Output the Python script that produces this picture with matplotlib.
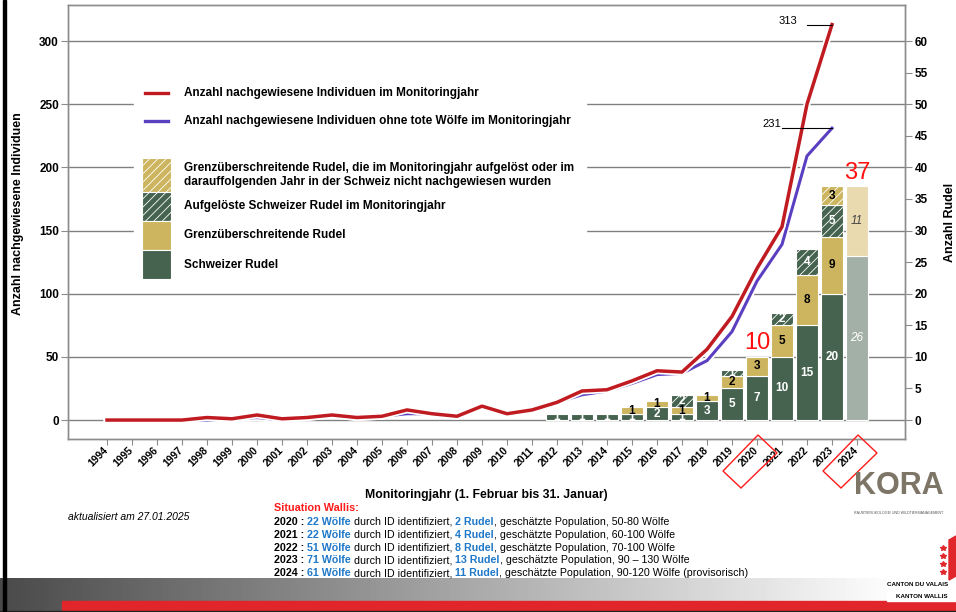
import numpy as np
import matplotlib.pyplot as plt
import matplotlib.patheffects as pe
from matplotlib import font_manager as fm
from matplotlib.patches import Rectangle, Polygon
from matplotlib.lines import Line2D

plt.rcParams['font.family'] = ['Liberation Sans', 'DejaVu Sans']
plt.rcParams['hatch.linewidth'] = 0.6


def has_font(name):
    try:
        fm.findfont(fm.FontProperties(family=name), fallback_to_default=False)
        return True
    except ValueError:
        return False


narrow = 'Liberation Sans Narrow' if has_font('Liberation Sans Narrow') else 'Liberation Sans'

# monitoring years
years = list(range(1994, 2025))
line_years = years[:-1]

# individuals per monitoring year (left axis)
individuals = [0, 0, 0, 0, 2, 1, 4, 1, 2, 4, 2, 3, 8, 5, 3, 11, 5, 8, 14, 23,
               24, 31, 39, 38, 56, 82, 120, 153, 250, 313]
without_dead = [0, 0, 0, 0, 0, 1, 2, 0, 2, 4, 2, 3, 5, 5, 3, 10, 4, 8, 14, 20,
                23, 29, 36, 37, 47, 70, 110, 139, 209, 231]

# packs (right axis)
pack_years = list(range(2012, 2024))
swiss = [1, 1, 1, 1, 2, 1, 3, 5, 7, 10, 15, 20]
cross = [0, 0, 0, 1, 1, 1, 1, 2, 3, 5, 8, 9]
dissolved_swiss = [0, 0, 0, 0, 0, 2, 0, 1, 0, 2, 4, 5]
dissolved_cross = [0, 0, 0, 0, 0, 0, 0, 0, 0, 0, 0, 3]

prov_year = 2024
prov_swiss = 26
prov_cross = 11

# Situation Wallis
sit_years = [2020, 2021, 2022, 2023, 2024]
sit_wolves = [22, 22, 51, 71, 61]
sit_packs = [2, 4, 8, 13, 11]
sit_pop = ['50-80', '60-100', '70-100', '90 \u2013 130', '90-120']
sit_note = ['', '', '', '', ' (provisorisch)']

GREEN = '#45634f'
GOLD = '#cdb55f'
RED = '#bf1b21'
BLUE = '#5b3fc1'
GRID = '#808080'

W, H = 956, 612
fig = plt.figure(figsize=(W / 100, H / 100), dpi=100)
ax = fig.add_axes([68 / W, 1 - 439 / H, (905 - 68) / W, (439 - 5) / H])
ax2 = ax.twinx()


def fx(px):
    return px / W


def fy(py):
    return 1 - py / H


ax.set_xlim(1992.44, 2025.92)
ax.set_ylim(-15, 328.5)
ax2.set_ylim(-3, 65.7)

ax.set_yticks(range(0, 301, 50))
ax2.set_yticks(range(0, 61, 5))
ax.grid(axis='y', color=GRID, lw=1)
ax.set_axisbelow(True)

for a in (ax, ax2):
    for s in a.spines.values():
        s.set_color('#8c8c8c')
        s.set_linewidth(1)

ax.set_xticks(years)
ax.set_xticklabels([str(y) for y in years], rotation=45, ha='right', va='center',
                   rotation_mode='anchor', fontweight='bold', fontsize=7.5)
ax.tick_params(axis='x', length=4, pad=3, color='#8c8c8c')
ax.tick_params(axis='y', length=5, pad=1.5, color='#8c8c8c', labelsize=8.5)
ax2.tick_params(axis='y', length=5, pad=2, color='#8c8c8c', labelsize=8.5)
for lab in ax.get_yticklabels() + ax2.get_yticklabels():
    lab.set_fontweight('bold')

ax.set_ylabel('Anzahl nachgewiesene Individuen', fontweight='bold', fontsize=9)
ax.yaxis.set_label_coords(-0.052, 0.52)
ax2.set_ylabel('Anzahl Rudel', fontweight='bold', fontsize=9)
ax2.yaxis.set_label_coords(1.046, 0.5)
ax.set_xlabel('Monitoringjahr (1. Februar bis 31. Januar)', fontweight='bold',
              fontsize=8.8, family=narrow)
ax.xaxis.set_label_coords(0.5, -0.115)

# lines
halo = [pe.Stroke(linewidth=5, foreground='white'), pe.Normal()]
ax.plot(line_years, without_dead, color=BLUE, lw=2.2, path_effects=halo, zorder=3)
ax.plot(line_years, individuals, color=RED, lw=2.5, path_effects=halo, zorder=4)

ax.plot([2022, 2023], [individuals[-1]] * 2, color='black', lw=0.8, zorder=5)
ax.text(2021.6, individuals[-1] + 3, str(individuals[-1]), ha='right', va='center', fontsize=8)
ax.plot([2021, 2023], [without_dead[-1]] * 2, color='black', lw=0.8, zorder=5)
ax.text(2020.98, without_dead[-1] + 3, str(without_dead[-1]), ha='right', va='center', fontsize=8)

# stacked bars
segments = [
    (swiss, GREEN, None, 'white'),
    (cross, GOLD, None, 'black'),
    (dissolved_swiss, GREEN, '////', 'white'),
    (dissolved_cross, GOLD, '////', 'black'),
]
bottom = np.zeros(len(pack_years))
for vals, color, hatch, tcol in segments:
    vals = np.array(vals, dtype=float)
    m = vals > 0
    xs = np.array(pack_years)[m]
    ax2.bar(xs, vals[m], 0.9, bottom=bottom[m], color=color, edgecolor='white',
            linewidth=0.8, hatch=hatch, zorder=2)
    for x, b, v in zip(xs, bottom[m], vals[m]):
        ax2.text(x, b + v / 2, f'{int(v)}', ha='center', va='center', color=tcol,
                 fontsize=8.5, fontweight='bold', zorder=6)
    bottom += vals

ax2.bar(prov_year, prov_swiss, 0.9, color='#a3b0a7', edgecolor='white', linewidth=0.8, zorder=2)
ax2.bar(prov_year, prov_cross, 0.9, bottom=prov_swiss, color='#e9dab0', edgecolor='white',
        linewidth=0.8, zorder=2)
ax2.text(prov_year, prov_swiss / 2, str(prov_swiss), ha='center', va='center', color='white',
         fontsize=8.5, fontstyle='italic', zorder=6)
ax2.text(prov_year, prov_swiss + prov_cross / 2, str(prov_cross), ha='center', va='center',
         color='#444444', fontsize=8.5, fontstyle='italic', zorder=6)

total_2020 = int(bottom[pack_years.index(2020)])
ax2.text(2020, total_2020 + 0.5, str(total_2020), ha='center', va='bottom', color='#ff1010',
         fontsize=17, zorder=6)
ax2.text(prov_year, prov_swiss + prov_cross + 0.3, str(prov_swiss + prov_cross), ha='center',
         va='bottom', color='#ff1010', fontsize=17, zorder=6)

# legend (manual, white box over the grid)
fig.add_artist(Rectangle((fx(134), fy(285)), fx(586) - fx(134), fy(80) - fy(285),
                         transform=fig.transFigure, color='white', zorder=1))
for py, col in [(93, RED), (121, BLUE)]:
    fig.add_artist(Line2D([fx(145), fx(168)], [fy(py), fy(py)], color=col, lw=2.4,
                          transform=fig.transFigure, zorder=2))
fig.text(fx(184), fy(93), 'Anzahl nachgewiesene Individuen im Monitoringjahr',
         va='center', fontweight='bold', fontsize=8.5)
fig.text(fx(184), fy(121), 'Anzahl nachgewiesene Individuen ohne tote W\u00f6lfe im Monitoringjahr',
         va='center', fontweight='bold', fontsize=8.5)

patch_rows = [
    (158, 192, GOLD, '////', 'Grenz\u00fcberschreitende Rudel, die im Monitoringjahr aufgel\u00f6st oder im\n'
                             'darauffolgenden Jahr in der Schweiz nicht nachgewiesen wurden'),
    (192, 221, GREEN, '////', 'Aufgel\u00f6ste Schweizer Rudel im Monitoringjahr'),
    (221, 250, GOLD, None, 'Grenz\u00fcberschreitende Rudel'),
    (250, 279, GREEN, None, 'Schweizer Rudel'),
]
for top, bot, col, hatch, label in patch_rows:
    fig.add_artist(Rectangle((fx(142), fy(bot)), fx(171) - fx(142), fy(top) - fy(bot),
                             transform=fig.transFigure, facecolor=col, edgecolor='white',
                             linewidth=0.8, hatch=hatch, zorder=2))
    fig.text(fx(184), fy((top + bot) / 2), label, va='center', fontweight='bold',
             fontsize=8.5, linespacing=1.2)

# red boxes around 2020 and 2024 tick labels
box_shape = [(1, 435), (20, 453), (-16, 488), (-34, 471)]
for yr in (2020, 2024):
    tx = ax.transData.transform((yr, 0))[0]
    pts = [(tx + dx, H - py) for dx, py in box_shape]
    fig.add_artist(Polygon(pts, closed=True, fill=False, edgecolor='#ff1a1a', lw=1,
                           transform=None, zorder=3))

# notes below the chart
fig.text(fx(68), fy(517), 'aktualisiert am 27.01.2025', fontstyle='italic', fontsize=7.5,
         family=narrow, va='center')
fig.text(fx(274), fy(508), 'Situation Wallis:', color='#ff1a1a', fontweight='bold',
         fontsize=7.8, family=narrow, va='center')

renderer = fig.canvas.get_renderer()


def text_runs(px, py, runs, size=7.7):
    for s, color, weight in runs:
        t = fig.text(fx(px), fy(py), s, color=color, fontweight=weight, fontsize=size,
                     family=narrow, va='center', ha='left')
        px += t.get_window_extent(renderer).width


LINK = '#1f78c8'
for i, yr in enumerate(sit_years):
    runs = [
        (f'{yr} : ', 'black', 'bold'),
        (f'{sit_wolves[i]} W\u00f6lfe', LINK, 'bold'),
        (' durch ID identifiziert, ', 'black', 'normal'),
        (f'{sit_packs[i]} Rudel', LINK, 'bold'),
        (f', gesch\u00e4tzte Population, {sit_pop[i]} W\u00f6lfe{sit_note[i]}', 'black', 'normal'),
    ]
    text_runs(274, 522 + i * 12.8, runs)

# footer band
band = fig.add_axes([0, 0, 1, 34 / H])
grad = np.clip(0.29 + 0.71 * np.arange(W) / 900, 0, 1)
band.imshow(np.tile(grad, (2, 1)), cmap='gray', vmin=0, vmax=1, aspect='auto',
            extent=[0, W, 0, 34])
band.axis('off')
fig.add_artist(Rectangle((fx(62), fy(611)), 1 - fx(62), fy(601) - fy(611),
                         transform=fig.transFigure, color='#e0262b', zorder=3))
fig.add_artist(Rectangle((0, 0), 1, 1 / H, transform=fig.transFigure, color='#222222', zorder=3))
fig.add_artist(Rectangle((fx(887), fy(601)), 1 - fx(887), fy(578) - fy(601),
                         transform=fig.transFigure, color='white', zorder=3))
fig.text(fx(948), fy(585), 'CANTON DU VALAIS', ha='right', va='center', fontsize=4.5,
         fontweight='bold', family=narrow, zorder=4)
fig.text(fx(948), fy(597), 'KANTON WALLIS', ha='right', va='center', fontsize=4.5,
         fontweight='bold', family=narrow, zorder=4)
fig.add_artist(Polygon([(fx(949), fy(540)), (1, fy(536)), (1, fy(576)), (fx(949), fy(580))],
                       transform=fig.transFigure, color='#e0262b', zorder=3))
for sy in (548, 556, 564, 572):
    fig.add_artist(Line2D([fx(943)], [fy(sy)], marker='*', ms=4, color='#e0262b',
                          transform=fig.transFigure, zorder=3))

# KORA logo (text only)
fig.text(fx(899), fy(486), 'KORA', ha='center', va='center', fontsize=22, fontweight='bold',
         color='#7d7566')
fig.text(fx(899), fy(513), 'RAUBTIER\u00d6KOLOGIE UND WILDTIERMANAGEMENT', ha='center',
         va='center', fontsize=2.6, color='#555555')

# slide border on the left
fig.add_artist(Rectangle((fx(3), 0), fx(3), 1, transform=fig.transFigure, color='black', zorder=5))

fig.savefig('out.png', dpi=100)
